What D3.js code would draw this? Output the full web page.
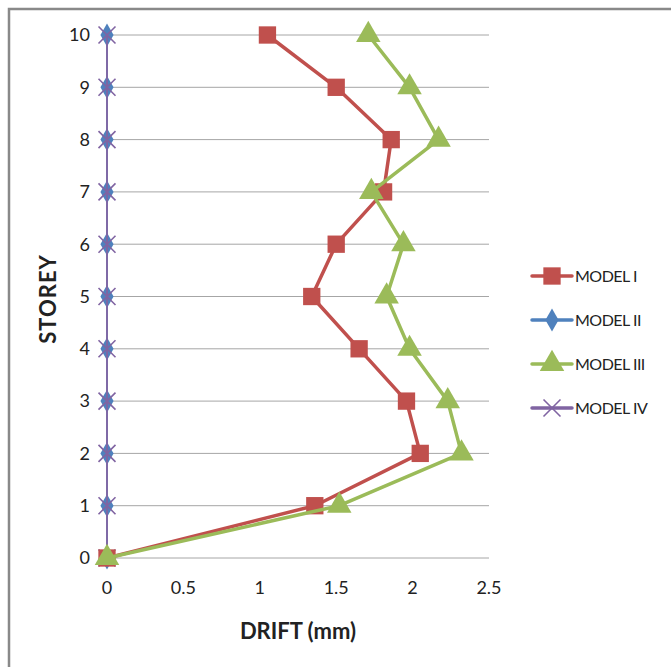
<!DOCTYPE html>
<html>
<head>
  <meta charset="utf-8">
  <title>Storey drift</title>
  <script src="https://cdn.jsdelivr.net/npm/d3@7"></script>
  <style>
    body { margin: 0; background: #fff; }
    text { font-family: Lato, "Open Sans", sans-serif; fill: #222; }
  </style>
</head>
<body>
<script>
// storey levels and drift values (mm)
var storeys = [0, 1, 2, 3, 4, 5, 6, 7, 8, 9, 10];
var model1 = [0, 1.36, 2.05, 1.96, 1.65, 1.34, 1.50, 1.81, 1.86, 1.50, 1.05];
var model2 = [0, 0, 0, 0, 0, 0, 0, 0, 0, 0, 0];
var model3 = [0, 1.52, 2.32, 2.23, 1.98, 1.83, 1.94, 1.73, 2.17, 1.98, 1.71];
var model4 = [0, 0, 0, 0, 0, 0, 0, 0, 0, 0, 0];
var xTicks = [0, 0.5, 1, 1.5, 2, 2.5];
var seriesNames = ["MODEL I", "MODEL II", "MODEL III", "MODEL IV"];

var W = 671, H = 667;
var svg = d3.select("body").append("svg").attr("width", W).attr("height", H);

// chart frame (runs off right and bottom)
svg.append("path")
   .attr("d", "M9," + H + " V9 H" + W)
   .attr("fill", "none").attr("stroke", "#898989").attr("stroke-width", 2.5);

var x = d3.scaleLinear().domain([0, 2.5]).range([107, 489]);
var y = d3.scaleLinear().domain([0, 10]).range([558, 35]);

// horizontal gridlines
svg.append("g").selectAll("line").data(storeys).enter().append("line")
   .attr("x1", x(0)).attr("x2", x(2.5))
   .attr("y1", function(d) { return y(d); }).attr("y2", function(d) { return y(d); })
   .attr("stroke", "#a6a6a6").attr("stroke-width", 1);

// y tick labels
svg.append("g").selectAll("text").data(storeys).enter().append("text")
   .attr("x", 90).attr("y", function(d) { return y(d); })
   .attr("dy", "0.35em").attr("text-anchor", "end")
   .style("font-size", "18px").text(function(d) { return d; });

// x tick labels
svg.append("g").selectAll("text").data(xTicks).enter().append("text")
   .attr("x", function(d) { return x(d); }).attr("y", 594)
   .attr("text-anchor", "middle")
   .style("font-size", "18px").text(function(d) { return d; });

// axis titles
svg.append("text").attr("x", 298).attr("y", 639).attr("text-anchor", "middle")
   .style("font-size", "22px").style("font-weight", "bold").text("DRIFT (mm)");
svg.append("text").attr("transform", "translate(56,299) rotate(-90)")
   .attr("text-anchor", "middle")
   .style("font-size", "22px").style("font-weight", "bold").style("letter-spacing", "1px")
   .text("STOREY");

var line = d3.line()
   .x(function(d) { return x(d[0]); })
   .y(function(d) { return y(d[1]); });

function pts(vals) { return vals.map(function(v, i) { return [v, storeys[i]]; }); }

var colors = ["#c0504d", "#4f81bd", "#9bbb59", "#8064a2"];
var symbols = [d3.symbolSquare, d3.symbolDiamond, d3.symbolTriangle, d3.symbolTimes];
var sizes = [300, 150, 260, 190];
var widths = [3.5, 1.5, 3.5, 1.8];

function marker(g, k, px, py) {
  var s = g.append("path")
     .attr("transform", "translate(" + px + "," + py + ")")
     .attr("d", d3.symbol().type(symbols[k]).size(sizes[k])());
  if (k == 3) s.attr("fill", "none").attr("stroke", colors[k]).attr("stroke-width", 1.6);
  else s.attr("fill", colors[k]);
}

var data = [model1, model2, model3, model4];
// draw order: II, IV, I, III like the reference
[1, 3, 0, 2].forEach(function(k) {
  var g = svg.append("g");
  g.append("path").datum(pts(data[k])).attr("d", line)
   .attr("fill", "none").attr("stroke", colors[k])
   .attr("stroke-width", widths[k]).attr("stroke-linejoin", "round");
  pts(data[k]).forEach(function(p) { marker(g, k, x(p[0]), y(p[1])); });
});

// legend
var leg = svg.append("g");
seriesNames.forEach(function(name, k) {
  var ly = 276 + k * 44;
  leg.append("line").attr("x1", 532).attr("x2", 572).attr("y1", ly).attr("y2", ly)
     .attr("stroke", colors[k]).attr("stroke-width", 3.5).attr("stroke-linecap", "round");
  marker(leg, k, 552, ly);
  leg.append("text").attr("x", 575).attr("y", ly).attr("dy", "0.35em")
     .style("font-size", "16px").style("letter-spacing", "-0.5px").text(name);
});
</script>
</body>
</html>
